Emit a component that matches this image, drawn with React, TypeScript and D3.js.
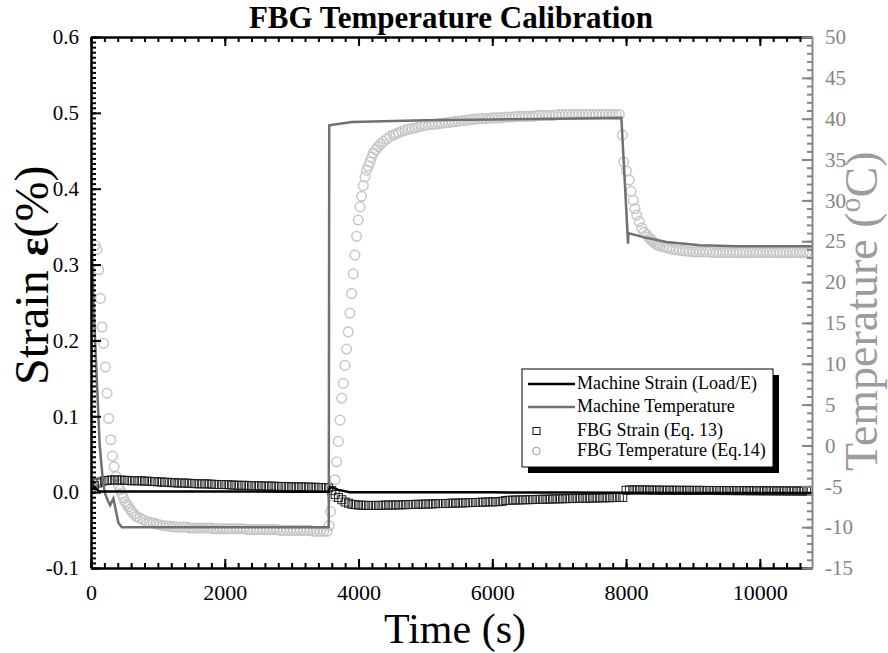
import * as d3 from "d3";
import { useEffect, useRef } from "react";

// FBG strain samples, every 50 s (0 .. 10750 s)
const strainTimes = d3.range(0, 10800, 50);
const fbgStrain = [
  0.004, 0.009, 0.012, 0.0135, 0.015, 0.0155, 0.016, 0.016, 0.016, 0.016, 0.0155, 0.0155, 0.015, 0.015, 0.015, 0.015, 0.0145, 0.0145, 0.014, 0.014,
  0.0135, 0.0135, 0.013, 0.013, 0.0125, 0.0125, 0.012, 0.012, 0.012, 0.0118, 0.0115, 0.0112, 0.011, 0.011, 0.011, 0.0108, 0.0105, 0.0102, 0.01, 0.01,
  0.01, 0.0098, 0.0095, 0.0092, 0.009, 0.009, 0.009, 0.0088, 0.0085, 0.0085, 0.0085, 0.0082, 0.008, 0.008, 0.008, 0.0078, 0.0075, 0.0075, 0.0075, 0.0072,
  0.007, 0.007, 0.007, 0.007, 0.0068, 0.0066, 0.0065, 0.0064, 0.0062, 0.0061, 0.006, 0.0055, 0.002, -0.003, -0.007, -0.01, -0.013, -0.0145, -0.016, -0.0165,
  -0.017, -0.0172, -0.0175, -0.0175, -0.0175, -0.0175, -0.0175, -0.0174, -0.017, -0.017, -0.017, -0.0169, -0.0168, -0.0166, -0.0165, -0.0164, -0.0162, -0.0161, -0.016, -0.0159,
  -0.0157, -0.0156, -0.0155, -0.0152, -0.015, -0.015, -0.015, -0.0148, -0.0145, -0.0144, -0.0143, -0.0142, -0.014, -0.0138, -0.0137, -0.0136, -0.0135, -0.0132, -0.013, -0.0129,
  -0.0128, -0.0126, -0.0125, -0.012, -0.011, -0.0108, -0.0105, -0.0104, -0.0103, -0.0102, -0.01, -0.0099, -0.0098, -0.0096, -0.0095, -0.0094, -0.0093, -0.0092, -0.009, -0.0089,
  -0.0088, -0.0087, -0.0086, -0.0085, -0.0084, -0.0083, -0.0082, -0.0081, -0.008, -0.0079, -0.0078, -0.0077, -0.0076, -0.0075, -0.0074, -0.0073, -0.0072, -0.0071, -0.007, -0.007,
  0.0025, 0.0028, 0.003, 0.003, 0.003, 0.003, 0.0028, 0.0028, 0.0027, 0.0027, 0.0026, 0.0026, 0.0025, 0.0025, 0.0025, 0.0025, 0.0024, 0.0024, 0.0024, 0.0024,
  0.0023, 0.0023, 0.0023, 0.0023, 0.0022, 0.0022, 0.0022, 0.0022, 0.0021, 0.0021, 0.0021, 0.0021, 0.002, 0.002, 0.002, 0.002, 0.0019, 0.0019, 0.0019, 0.0019,
  0.0018, 0.0018, 0.0018, 0.0018, 0.0017, 0.0017, 0.0017, 0.0017, 0.0016, 0.0016, 0.0016, 0.0016, 0.0015, 0.0015, 0.0015, 0.0015,
];

// [time s, strain %]
const machineStrain: [number, number][] = [
  [0, 0.003], [60, 0.006], [120, 0.001], [200, 0.001], [1000, 0.001], [2000, 0.0008],
  [3000, 0.0006], [3555, 0.0005], [3575, 0.007], [3700, 0.003], [3870, 0.0], [5000, 0.0],
  [6000, -0.0003], [7000, -0.0005], [8000, -0.0008], [9000, -0.001], [10780, -0.0012],
];

// [time s, temperature C]
const machineTemp: [number, number][] = [
  [0, 28], [50, 15], [130, 0], [180, -4.5], [210, -5.9], [250, -6.7], [285, -7.3],
  [335, -6.5], [410, -9.5], [460, -10.0], [3555, -10.0], [3562, 39.2], [3900, 39.6],
  [5000, 39.8], [6000, 39.9], [7000, 40.0], [7930, 40.1], [8030, 24.7], [8033, 26.0],
  [8256, 25.5], [8605, 24.9], [9105, 24.5], [9653, 24.4], [10780, 24.4],
];

const fbgTemp: [number, number][] = [
  // cool-down
  [60, 24.5], [90, 24.0], [115, 21.5], [140, 18.0], [165, 14.5], [190, 12.5], [215, 9.6],
  [240, 6.4], [265, 3.3], [295, 0.7], [320, -1.3], [345, -2.6], [375, -3.8], [410, -4.8],
  [435, -5.4], [460, -5.9], [485, -6.4], [510, -6.9], [535, -7.2], [560, -7.5], [585, -7.8],
  [610, -8.1], [645, -8.4], [680, -8.7], [730, -8.9], [780, -9.1], [830, -9.3], [880, -9.4],
  [930, -9.5], [980, -9.6], [1030, -9.7], [1080, -9.8], [1130, -9.85], [1180, -9.9], [1230, -9.95],
  [1280, -10.0], [1330, -10.0], [1380, -10.0], [1430, -10.0], [1480, -10.1], [1530, -10.1],
  [1580, -10.1], [1630, -10.1], [1680, -10.1], [1730, -10.1], [1780, -10.1], [1830, -10.2],
  [1880, -10.2], [1930, -10.2], [1980, -10.2], [2030, -10.2], [2080, -10.2], [2130, -10.2],
  [2180, -10.2], [2230, -10.2], [2280, -10.2], [2330, -10.3], [2380, -10.3], [2430, -10.3],
  [2480, -10.3], [2530, -10.3], [2580, -10.3], [2630, -10.3], [2680, -10.3], [2730, -10.3],
  [2780, -10.3], [2830, -10.4], [2880, -10.4], [2930, -10.4], [2980, -10.4], [3030, -10.4],
  [3080, -10.4], [3130, -10.4], [3180, -10.4], [3230, -10.4], [3280, -10.4], [3330, -10.5],
  [3380, -10.5], [3430, -10.5], [3480, -10.5], [3530, -10.5], [3560, -9.8],
  // heat-up
  [3583, -8.1], [3610, -6.2], [3648, -4.2], [3673, -2.0], [3698, 0.5], [3723, 3.1], [3748, 5.8],
  [3772, 7.6], [3797, 9.8], [3822, 11.8], [3846, 13.9], [3871, 16.2], [3897, 18.6], [3921, 21.0],
  [3946, 23.3], [3971, 25.6], [3996, 27.6], [4021, 29.2], [4046, 30.5], [4071, 31.8], [4096, 32.9],
  [4121, 33.7], [4146, 34.2], [4171, 34.7], [4196, 35.3], [4221, 35.8], [4258, 36.2], [4295, 36.6],
  [4333, 36.9], [4370, 37.2], [4420, 37.5], [4470, 37.8], [4520, 38.0], [4560, 38.15], [4600, 38.3],
  [4650, 38.45], [4700, 38.6], [4750, 38.7], [4800, 38.8], [4850, 38.9], [4900, 39.0], [4950, 39.1],
  [5000, 39.2], [5050, 39.25], [5100, 39.3], [5150, 39.35], [5200, 39.4], [5250, 39.45], [5300, 39.5],
  [5350, 39.55], [5400, 39.6], [5450, 39.65], [5500, 39.7], [5550, 39.75], [5600, 39.8], [5650, 39.85],
  [5700, 39.9], [5750, 39.95], [5800, 40.0], [5850, 40.0], [5900, 40.0], [5950, 40.05], [6000, 40.1],
  [6050, 40.1], [6100, 40.1], [6150, 40.15], [6200, 40.2], [6250, 40.2], [6300, 40.2], [6350, 40.25],
  [6400, 40.3], [6450, 40.3], [6500, 40.3], [6550, 40.3], [6600, 40.3], [6650, 40.35], [6700, 40.4],
  [6750, 40.4], [6800, 40.4], [6850, 40.4], [6900, 40.4], [6950, 40.45], [7000, 40.5], [7050, 40.5],
  [7100, 40.5], [7150, 40.5], [7200, 40.5], [7250, 40.5], [7300, 40.5], [7350, 40.5], [7400, 40.5],
  [7450, 40.5], [7500, 40.5], [7550, 40.5], [7600, 40.5], [7650, 40.5], [7700, 40.5], [7750, 40.5],
  [7800, 40.5], [7850, 40.5], [7900, 40.5],
  // second cool-down
  [7945, 38.0], [7965, 34.7], [8005, 33.6], [8048, 32.5], [8075, 31.1], [8108, 30.0], [8133, 29.0],
  [8158, 28.2], [8197, 27.4], [8233, 26.6], [8270, 26.1], [8308, 25.8], [8335, 25.5], [8360, 25.3],
  [8385, 25.1], [8407, 24.9], [8435, 24.75], [8460, 24.6], [8485, 24.5], [8507, 24.4], [8557, 24.3],
  [8607, 24.2], [8650, 24.1], [8700, 24.0], [8750, 23.95], [8800, 23.9], [8850, 23.85], [8900, 23.8],
  [8950, 23.75], [9000, 23.7], [9050, 23.7], [9100, 23.7], [9150, 23.7], [9200, 23.7], [9250, 23.7],
  [9300, 23.6], [9350, 23.6], [9400, 23.6], [9450, 23.6], [9500, 23.6], [9550, 23.6], [9600, 23.6],
  [9650, 23.6], [9700, 23.6], [9750, 23.6], [9800, 23.6], [9850, 23.6], [9900, 23.6], [9950, 23.6],
  [10000, 23.6], [10050, 23.6], [10100, 23.6], [10150, 23.6], [10200, 23.6], [10250, 23.6],
  [10300, 23.6], [10350, 23.6], [10400, 23.6], [10450, 23.6], [10500, 23.6], [10550, 23.6],
  [10600, 23.6], [10650, 23.6], [10700, 23.6], [10750, 23.6],
];

const xTicks = [0, 2000, 4000, 6000, 8000, 10000];
const strainTicks = [-0.1, 0.0, 0.1, 0.2, 0.3, 0.4, 0.5, 0.6];
const tempTicks = [-15, -10, -5, 0, 5, 10, 15, 20, 25, 30, 35, 40, 45, 50];
const legendLabels = [
  "Machine Strain (Load/E)",
  "Machine Temperature",
  "FBG Strain (Eq. 13)",
  "FBG Temperature (Eq.14)",
];

const FONT = "'Liberation Serif', 'Times New Roman', serif";
const TEMP_LINE = "#707070";
const CIRCLE = "#c6c6c6";
const RIGHT_AXIS = "#858585";

function Chart() {
  const ref = useRef<SVGSVGElement>(null);

  useEffect(() => {
    const svg = d3.select(ref.current);
    svg.selectAll("*").remove();

    const left = 91, right = 812, top = 37, bottom = 568;
    const x = d3.scaleLinear().domain([0, 10780]).range([left, right]);
    const yL = d3.scaleLinear().domain([-0.1, 0.6]).range([bottom, top]);
    const yR = d3.scaleLinear().domain([-15, 50]).range([bottom, top]);

    svg.append("defs").append("clipPath").attr("id", "plotclip")
      .append("rect").attr("x", left).attr("y", top)
      .attr("width", right - left).attr("height", bottom - top);

    const plot = svg.append("g").attr("clip-path", "url(#plotclip)");

    // FBG temperature circles
    plot.append("g")
      .selectAll("circle")
      .data(fbgTemp)
      .join("circle")
      .attr("cx", d => x(d[0]))
      .attr("cy", d => yR(d[1]))
      .attr("r", 4.8)
      .attr("fill", "none")
      .attr("stroke", CIRCLE)
      .attr("stroke-width", 1.5);

    // FBG strain squares
    plot.append("g")
      .selectAll("rect")
      .data(fbgStrain)
      .join("rect")
      .attr("x", (_, i) => x(strainTimes[i]) - 4)
      .attr("y", d => yL(d) - 4)
      .attr("width", 8)
      .attr("height", 8)
      .attr("fill", "none")
      .attr("stroke", "#222")
      .attr("stroke-width", 1);

    plot.append("path")
      .datum(machineTemp)
      .attr("fill", "none")
      .attr("stroke", TEMP_LINE)
      .attr("stroke-width", 2.5)
      .attr("d", d3.line<[number, number]>().x(d => x(d[0])).y(d => yR(d[1])));

    plot.append("path")
      .datum(machineStrain)
      .attr("fill", "none")
      .attr("stroke", "#000")
      .attr("stroke-width", 2.5)
      .attr("d", d3.line<[number, number]>().x(d => x(d[0])).y(d => yL(d[1])));

    // axes
    const styleAxis = (g: d3.Selection<SVGGElement, unknown, null, undefined>, color: string, size: number) => {
      g.attr("font-family", FONT).attr("font-size", size);
      g.selectAll(".tick line").attr("stroke", color).attr("stroke-width", 2);
      g.selectAll(".tick text").attr("fill", color);
      g.select(".domain").attr("stroke", color).attr("stroke-width", 2.5);
    };

    const xMinor = d3.range(0, 10781, 200);
    const yLMinor = d3.range(0, 106).map(i => -0.1 + (i * 0.1) / 15);
    const yRMinor = d3.range(-15, 51, 1);

    // bottom
    const bMinor = svg.append("g").attr("transform", `translate(0,${bottom})`)
      .call(d3.axisBottom(x).tickValues(xMinor).tickSize(-5).tickSizeOuter(0).tickFormat(() => ""));
    bMinor.select(".domain").remove();
    bMinor.selectAll(".tick line").attr("stroke", "#000").attr("stroke-width", 2);
    const bMajor = svg.append("g").attr("transform", `translate(0,${bottom})`)
      .call(d3.axisBottom(x).tickValues(xTicks).tickSize(-9).tickSizeOuter(0).tickPadding(16)
        .tickFormat(d => String(d)));
    styleAxis(bMajor, "#000", 22);

    // top
    const tMinor = svg.append("g").attr("transform", `translate(0,${top})`)
      .call(d3.axisTop(x).tickValues(xMinor).tickSize(-5).tickSizeOuter(0).tickFormat(() => ""));
    tMinor.select(".domain").remove();
    tMinor.selectAll(".tick line").attr("stroke", "#000").attr("stroke-width", 2);
    const tMajor = svg.append("g").attr("transform", `translate(0,${top})`)
      .call(d3.axisTop(x).tickValues(xTicks).tickSize(-9).tickSizeOuter(0).tickFormat(() => ""));
    styleAxis(tMajor, "#000", 22);

    // left
    const lMinor = svg.append("g").attr("transform", `translate(${left},0)`)
      .call(d3.axisLeft(yL).tickValues(yLMinor).tickSize(-5).tickSizeOuter(0).tickFormat(() => ""));
    lMinor.select(".domain").remove();
    lMinor.selectAll(".tick line").attr("stroke", "#000").attr("stroke-width", 2);
    const lMajor = svg.append("g").attr("transform", `translate(${left},0)`)
      .call(d3.axisLeft(yL).tickValues(strainTicks).tickSize(-10).tickSizeOuter(0).tickPadding(12)
        .tickFormat(d => (+d).toFixed(1)));
    styleAxis(lMajor, "#000", 21);

    // right
    const rMinor = svg.append("g").attr("transform", `translate(${right},0)`)
      .call(d3.axisRight(yR).tickValues(yRMinor).tickSize(-5).tickSizeOuter(0).tickFormat(() => ""));
    rMinor.select(".domain").remove();
    rMinor.selectAll(".tick line").attr("stroke", RIGHT_AXIS).attr("stroke-width", 2);
    const rMajor = svg.append("g").attr("transform", `translate(${right},0)`)
      .call(d3.axisRight(yR).tickValues(tempTicks).tickSize(-10).tickSizeOuter(0).tickPadding(13)
        .tickFormat(d => String(d)));
    styleAxis(rMajor, RIGHT_AXIS, 21);
    rMajor.select(".domain").attr("stroke-width", 2);

    // title and axis labels
    svg.append("text")
      .attr("x", 451).attr("y", 28)
      .attr("text-anchor", "middle")
      .attr("font-family", FONT).attr("font-weight", "bold").attr("font-size", 31)
      .text("FBG Temperature Calibration");

    svg.append("text")
      .attr("x", 455).attr("y", 643)
      .attr("text-anchor", "middle")
      .attr("font-family", FONT).attr("font-size", 42)
      .text("Time (s)");

    const yLabel = svg.append("text")
      .attr("transform", "translate(48,385) rotate(-90)")
      .attr("font-family", FONT).attr("font-size", 48);
    yLabel.append("tspan").text("Strain");
    yLabel.append("tspan").attr("dx", 14).attr("font-weight", "bold").attr("font-size", 44).text("ε");
    yLabel.append("tspan").text("(%)");

    const rLabel = svg.append("text")
      .attr("transform", "translate(877,471) rotate(-90)")
      .attr("font-family", FONT).attr("font-size", 46).attr("fill", "#9c9c9c");
    rLabel.append("tspan").text("Temperature (");
    rLabel.append("tspan").attr("font-size", 30).attr("dy", -17).text("o");
    rLabel.append("tspan").attr("dy", 17).text("C)");

    // legend
    const lg = svg.append("g");
    const lx = 522, ly = 369, lw = 251, lh = 98;
    lg.append("rect").attr("x", lx + 6).attr("y", ly + 6).attr("width", lw).attr("height", lh).attr("fill", "#000");
    lg.append("rect").attr("x", lx).attr("y", ly).attr("width", lw).attr("height", lh)
      .attr("fill", "#fff").attr("stroke", "#000").attr("stroke-width", 1);

    const rowY = [384, 407, 431, 451];
    lg.selectAll("text")
      .data(legendLabels)
      .join("text")
      .attr("x", 577)
      .attr("y", (_, i) => rowY[i] + 5)
      .attr("font-family", FONT).attr("font-size", 18)
      .text(d => d);
    lg.append("line").attr("x1", 528).attr("x2", 575).attr("y1", rowY[0]).attr("y2", rowY[0])
      .attr("stroke", "#000").attr("stroke-width", 2.5);
    lg.append("line").attr("x1", 528).attr("x2", 575).attr("y1", rowY[1]).attr("y2", rowY[1])
      .attr("stroke", TEMP_LINE).attr("stroke-width", 2.5);
    lg.append("rect").attr("x", 533).attr("y", rowY[2] - 3.5).attr("width", 7).attr("height", 7)
      .attr("fill", "none").attr("stroke", "#111").attr("stroke-width", 1);
    lg.append("circle").attr("cx", 536.5).attr("cy", rowY[3]).attr("r", 3.8)
      .attr("fill", "none").attr("stroke", "#999").attr("stroke-width", 1);
  }, []);

  return <svg ref={ref} width={888} height={653} style={{ position: "absolute", left: 0, top: 0, background: "#fff" }} />;
}

export default function App() {
  return <Chart />;
}
